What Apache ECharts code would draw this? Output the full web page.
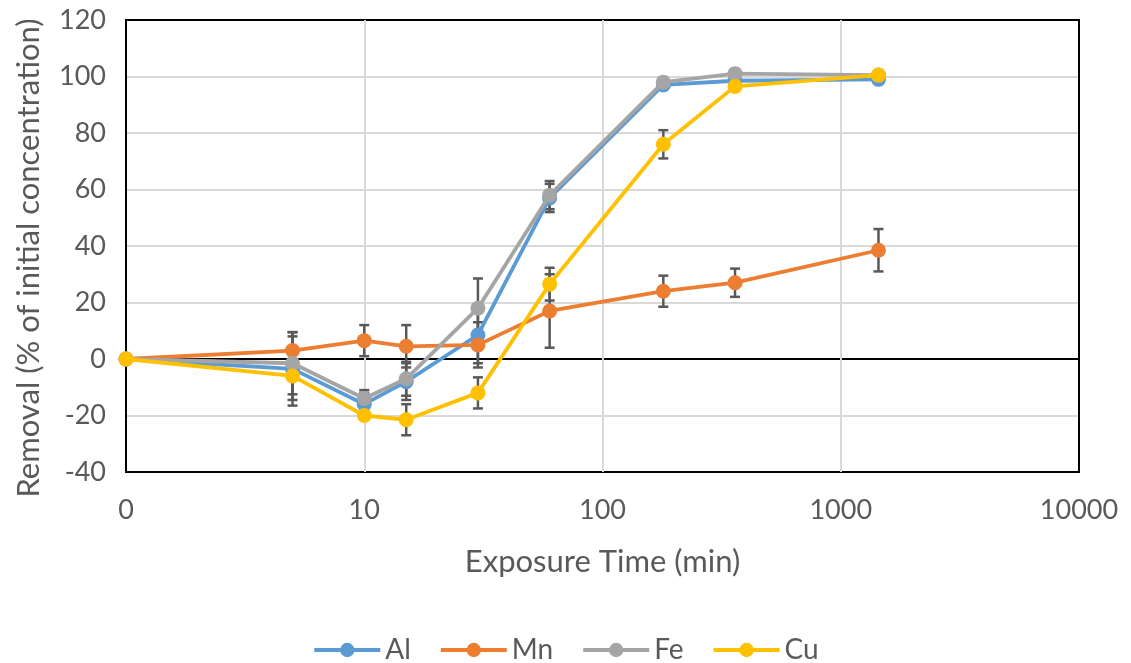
<!DOCTYPE html>
<html>
<head>
<meta charset="utf-8">
<title>Removal vs exposure time</title>
<script src="https://cdn.jsdelivr.net/npm/echarts@6/dist/echarts.min.js"></script>
<style>
  html, body { margin: 0; padding: 0; background: #fff; }
  #chart { width: 1131px; height: 663px; }
</style>
</head>
<body>
<div id="chart"></div>
<script>
// Exposure times in minutes; 0 is placed at the start of the log axis (1).
const times = [0, 5, 10, 15, 30, 60, 180, 360, 1440];

// Removal (% of initial concentration) and standard deviations per metal
const alValues = [0, -3.5, -16, -8, 8.5, 57, 97, 98.5, 99];
const alErrors = [0, 13, 4, 6.5, 10, 5, 1, 1, 1];
const mnValues = [0, 3, 6.5, 4.5, 5, 17, 24, 27, 38.5];
const mnErrors = [0, 5, 5.5, 7.5, 8, 13, 5.5, 5, 7.5];
const feValues = [0, -1.5, -14, -7, 18, 58, 98, 101, 100.5];
const feErrors = [0, 11, 3, 6, 10.5, 5, 1, 1, 1];
const cuValues = [0, -6, -20, -21.5, -12, 26.5, 76, 96.5, 100.5];
const cuErrors = [0, 8.5, 1.5, 5.5, 5.5, 5.8, 5, 1.5, 1];

const xTicks = [1, 10, 100, 1000, 10000];
const yTicks = { min: -40, max: 120, step: 20 };

const metals = [
  { name: 'Al', color: '#5B9BD5', values: alValues, errors: alErrors },
  { name: 'Mn', color: '#ED7D31', values: mnValues, errors: mnErrors },
  { name: 'Fe', color: '#A5A5A5', values: feValues, errors: feErrors },
  { name: 'Cu', color: '#FFC000', values: cuValues, errors: cuErrors }
];

const FONT = 'Lato, "Open Sans", sans-serif';
const TEXT = '#595959';
const GRID = '#D9D9D9';
const toAxisTime = t => (t === 0 ? 1 : t);

// Outer decades frame the plot in black, inner decades are light grid lines.
const xSplitColors = xTicks.map((v, i) => (i === 0 || i === xTicks.length - 1 ? '#000' : GRID));
// Horizontal lines: black at the frame edges and at zero.
const ySplitColors = [];
for (let v = yTicks.min; v <= yTicks.max; v += yTicks.step) {
  ySplitColors.push(v === yTicks.min || v === yTicks.max || v === 0 ? '#000' : GRID);
}

function errorBarItem(params, api) {
  const x = api.value(0), y = api.value(1), e = api.value(2);
  if (!e) return null;
  const top = api.coord([x, y + e]);
  const bot = api.coord([x, y - e]);
  const half = 5;
  const style = { stroke: '#595959', lineWidth: 2.5 };
  return {
    type: 'group',
    children: [
      { type: 'line', shape: { x1: top[0], y1: top[1], x2: bot[0], y2: bot[1] }, style },
      { type: 'line', shape: { x1: top[0] - half, y1: top[1], x2: top[0] + half, y2: top[1] }, style },
      { type: 'line', shape: { x1: bot[0] - half, y1: bot[1], x2: bot[0] + half, y2: bot[1] }, style }
    ]
  };
}

const series = [];
metals.forEach(m => {
  series.push({
    name: m.name + ' error',
    type: 'custom',
    renderItem: errorBarItem,
    data: times.map((t, i) => [toAxisTime(t), m.values[i], m.errors[i]]),
    clip: false,
    z: 1,
    silent: true
  });
});
metals.forEach((m, k) => {
  series.push({
    name: m.name,
    type: 'line',
    data: times.map((t, i) => [toAxisTime(t), m.values[i]]),
    color: m.color,
    lineStyle: { width: 3.8, color: m.color },
    itemStyle: { color: m.color },
    symbol: 'circle',
    symbolSize: 15,
    clip: false,
    z: 3 + k
  });
});

const chart = echarts.init(document.getElementById('chart'), null, { renderer: 'canvas' });
chart.setOption({
  animation: false,
  backgroundColor: '#fff',
  textStyle: { fontFamily: FONT },
  grid: {
    left: 126, right: 52, top: 20, bottom: 191,
    show: true, borderColor: '#000', borderWidth: 2, backgroundColor: 'transparent'
  },
  legend: {
    data: metals.map(m => m.name),
    top: 631,
    left: 'center',
    itemWidth: 66,
    itemHeight: 18,
    itemGap: 28,
    lineStyle: { width: 4 },
    textStyle: { fontFamily: FONT, fontSize: 28, color: TEXT }
  },
  xAxis: {
    type: 'log',
    logBase: 10,
    min: xTicks[0],
    max: xTicks[xTicks.length - 1],
    name: 'Exposure Time (min)',
    nameLocation: 'middle',
    nameGap: 74,
    nameTextStyle: { fontFamily: FONT, fontSize: 31, color: TEXT },
    axisLine: { show: false },
    axisTick: { show: false },
    axisLabel: {
      fontFamily: FONT, fontSize: 27, color: TEXT, margin: 25,
      formatter: v => (v === 1 ? '0' : String(v))
    },
    splitLine: { show: true, lineStyle: { color: xSplitColors, width: 2 } }
  },
  yAxis: {
    type: 'value',
    min: yTicks.min,
    max: yTicks.max,
    interval: yTicks.step,
    name: 'Removal (% of initial concentration)',
    nameLocation: 'middle',
    nameGap: 82,
    nameTextStyle: { fontFamily: FONT, fontSize: 31, color: TEXT, padding: [0, 24, 0, 0] },
    axisLine: { show: false },
    axisTick: { show: false },
    axisLabel: { fontFamily: FONT, fontSize: 27, color: TEXT, margin: 20 },
    splitLine: { show: true, lineStyle: { color: ySplitColors, width: 2 } }
  },
  series
});
</script>
</body>
</html>
